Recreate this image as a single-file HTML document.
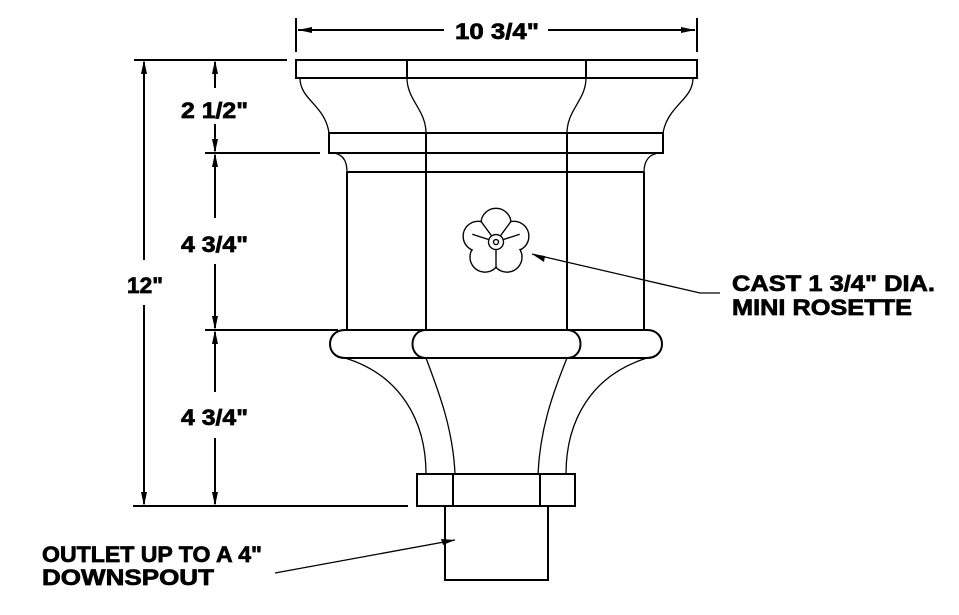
<!DOCTYPE html>
<html><head><meta charset="utf-8"><style>
html,body{margin:0;padding:0;background:#fff;}
svg{display:block;}
text{font-family:"Liberation Sans",Arial,sans-serif;font-weight:bold;fill:#000;stroke:#000;stroke-width:0.7;}
</style></head><body>
<svg width="959" height="615" viewBox="0 0 959 615" xmlns="http://www.w3.org/2000/svg">
<g fill="none" stroke="#000" stroke-width="2">
<line x1="296" y1="18" x2="296" y2="52"/>
<line x1="697" y1="18" x2="697" y2="52"/>
<line x1="298" y1="30" x2="444" y2="30"/>
<line x1="548" y1="30" x2="695" y2="30"/>
<rect x="296" y="60" width="401" height="18"/>
<line x1="407" y1="60" x2="407" y2="78"/>
<line x1="586" y1="60" x2="586" y2="78"/>
<rect x="329" y="133" width="334" height="20"/>
<line x1="426" y1="133" x2="426" y2="153"/>
<line x1="567" y1="133" x2="567" y2="153"/>
<line x1="347" y1="172" x2="644" y2="172"/>
<line x1="347" y1="172" x2="347" y2="330"/>
<line x1="644" y1="172" x2="644" y2="330"/>
<line x1="426" y1="153" x2="426" y2="330"/>
<line x1="567" y1="153" x2="567" y2="330"/>
<path d="M345 330 H647 M345 358 H647"/>
<path d="M345 330 C325 330 325 358 345 358"/>
<path d="M647 330 C667 330 667 358 647 358"/>
<path d="M426 330 C408 330 408 358 426 358"/>
<path d="M567 330 C585 330 585 358 567 358"/>
<rect x="417" y="474" width="158" height="32"/>
<line x1="453" y1="474" x2="453" y2="506"/>
<line x1="540" y1="474" x2="540" y2="506"/>
<rect x="445" y="506" width="103" height="74"/>
<line x1="134" y1="60" x2="287" y2="60"/>
<line x1="205" y1="153" x2="320" y2="153"/>
<line x1="205" y1="330" x2="338" y2="330"/>
<line x1="133" y1="506" x2="408" y2="506"/>
<line x1="144" y1="62" x2="144" y2="260"/>
<line x1="144" y1="305" x2="144" y2="504"/>
<line x1="215" y1="62" x2="215" y2="88"/>
<line x1="215" y1="124" x2="215" y2="151"/>
<line x1="215" y1="155" x2="215" y2="218"/>
<line x1="215" y1="264" x2="215" y2="328"/>
<line x1="215" y1="332" x2="215" y2="392"/>
<line x1="215" y1="438" x2="215" y2="504"/>
</g>
<g fill="none" stroke="#000" stroke-width="1.3">
<path d="M300 78 C300 100 325 105 329 133"/>
<path d="M407 78 C407 100 426 110 426 133"/>
<path d="M586 78 C586 100 567 110 567 133"/>
<path d="M693 78 C693 100 668 105 663 133"/>
<path d="M331 153 C342 153 347 160 347 172"/>
<path d="M661 153 C650 153 644 160 644 172"/>
<path d="M345 358 C400 375 426 420 426 474"/>
<path d="M426 358 C440 395 453 430 455 474"/>
<path d="M567 358 C552 395 540 430 538 474"/>
<path d="M647 358 C592 375 566 420 566 474"/>
<polyline points="275,573 455,540"/>
<polyline points="532,254 700,293 720,293"/>
</g>
<g fill="#000">
<polygon points="298,30 312,27 312,33"/>
<polygon points="695,30 681,27 681,33"/>
<polygon points="144,60 141,74 147,74"/>
<polygon points="144,506 141,492 147,492"/>
<polygon points="215,60 212,74 218,74"/>
<polygon points="215,153 212,139 218,139"/>
<polygon points="215,153 212,167 218,167"/>
<polygon points="215,330 212,316 218,316"/>
<polygon points="215,330 212,344 218,344"/>
<polygon points="215,506 212,492 218,492"/>
<polygon points="455,540 441,539 443,545"/>
<polygon points="532,254 545,256 544,262"/>
</g>
<g transform="translate(496,242) scale(1.25)" stroke="#000" stroke-width="1.1">
<g fill="#fff">
<circle cx="0" cy="-15" r="12"/><circle cx="14.3" cy="-4.6" r="12"/><circle cx="8.8" cy="12.1" r="12"/><circle cx="-8.8" cy="12.1" r="12"/><circle cx="-14.3" cy="-4.6" r="12"/>
</g>
<g fill="#fff" stroke="none">
<circle cx="0" cy="-15" r="11.2"/><circle cx="14.3" cy="-4.6" r="11.2"/><circle cx="8.8" cy="12.1" r="11.2"/><circle cx="-8.8" cy="12.1" r="11.2"/><circle cx="-14.3" cy="-4.6" r="11.2"/>
</g>
<g fill="none">
<line x1="0" y1="6" x2="0" y2="20"/><line x1="5.7" y1="-1.9" x2="19" y2="-6.2"/><line x1="-5.7" y1="-1.9" x2="-19" y2="-6.2"/><line x1="3.5" y1="-4.9" x2="11.8" y2="-16.2"/><line x1="-3.5" y1="-4.9" x2="-11.8" y2="-16.2"/>
<circle r="6" fill="#fff"/><circle r="2"/>
</g>
</g>
<g font-size="22">
<text x="455" y="39" textLength="84" lengthAdjust="spacingAndGlyphs">10 3/4"</text>
<text x="181" y="118" textLength="67" lengthAdjust="spacingAndGlyphs">2 1/2"</text>
<text x="181" y="252" textLength="67" lengthAdjust="spacingAndGlyphs">4 3/4"</text>
<text x="181" y="425" textLength="67" lengthAdjust="spacingAndGlyphs">4 3/4"</text>
<text x="127" y="293" textLength="36" lengthAdjust="spacingAndGlyphs">12"</text>
<text x="732" y="291" textLength="203" lengthAdjust="spacingAndGlyphs">CAST 1 3/4" DIA.</text>
<text x="732" y="315" textLength="180" lengthAdjust="spacingAndGlyphs">MINI ROSETTE</text>
<text x="42" y="562" textLength="220" lengthAdjust="spacingAndGlyphs">OUTLET UP TO A 4"</text>
<text x="42" y="585" textLength="172" lengthAdjust="spacingAndGlyphs">DOWNSPOUT</text>
</g>
</svg>
</body></html>
